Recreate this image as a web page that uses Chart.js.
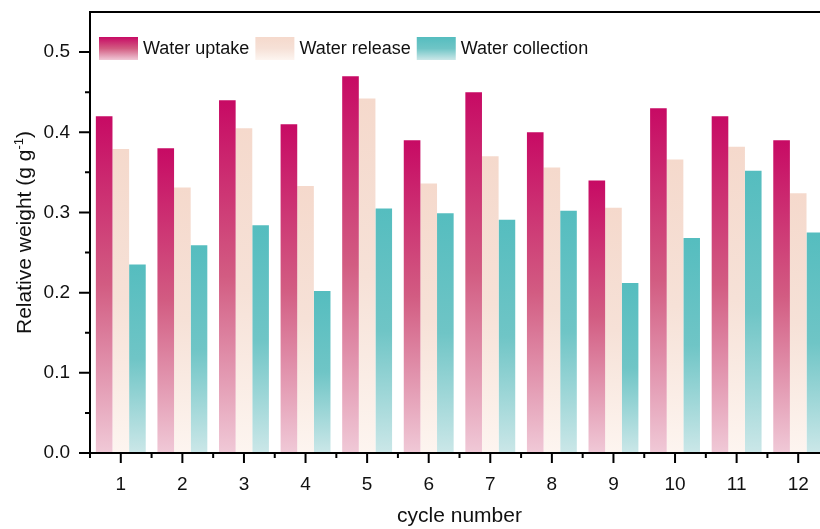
<!DOCTYPE html>
<html>
<head>
<meta charset="utf-8">
<script src="https://cdn.jsdelivr.net/npm/chart.js@4"></script>
<style>
  html, body { margin: 0; padding: 0; background: #fff; overflow: hidden; }
  #wrap { width: 840px; height: 529px; position: relative; }
</style>
</head>
<body>
<div id="wrap"><canvas id="cycleChart"></canvas></div>
<script>
// Số chu kỳ (trục x) và vạch chia trục y
const cycles = ["1", "2", "3", "4", "5", "6", "7", "8", "9", "10", "11", "12"];
const yTicks = [0, 0.1, 0.2, 0.3, 0.4, 0.5];

// Khối lượng tương đối (g g-1) theo từng chu kỳ
const waterUptake = [0.42, 0.38, 0.44, 0.41, 0.47, 0.39, 0.45, 0.40, 0.34, 0.43, 0.42, 0.39];
const waterRelease = [0.379, 0.331, 0.405, 0.333, 0.442, 0.336, 0.370, 0.356, 0.306, 0.366, 0.382, 0.324];
const waterCollection = [0.235, 0.259, 0.284, 0.202, 0.305, 0.299, 0.291, 0.302, 0.212, 0.268, 0.352, 0.275];

const FONT = '"Liberation Sans", Arial, sans-serif';

// Dải màu chuyển (trên -> dưới) cho từng nhóm cột
const uptakeStops = [[0, "#c70a64"], [0.5, "#d25c82"], [1, "#f0c9d7"]];
const releaseStops = [[0, "#f5d9cc"], [0.5, "#f6e1d7"], [1, "#fdf5f0"]];
const collectionStops = [[0, "#55bdbf"], [0.5, "#6fc5c6"], [1, "#cbe7e8"]];

function makeGradient(c, top, bottom, stops) {
  const g = c.createLinearGradient(0, top, 0, bottom);
  stops.forEach(s => g.addColorStop(s[0], s[1]));
  return g;
}

// Mỗi cột có gradient riêng, từ đỉnh cột xuống trục 0
function barFill(stops) {
  return function (context) {
    const chart = context.chart;
    const y = chart.scales.y;
    if (!chart.chartArea || !y || context.type !== "data") return stops[0][1];
    const top = y.getPixelForValue(context.raw);
    const bottom = y.getPixelForValue(0);
    return makeGradient(chart.ctx, top, bottom, stops);
  };
}

// Khung trục, vạch chia chính/phụ, chú thích và tiêu đề trục y
const framePlugin = {
  id: "frame",
  afterDatasetsDraw(chart) {
    const c = chart.ctx;
    const a = chart.chartArea;
    const x = chart.scales.x;
    const y = chart.scales.y;
    c.save();
    c.strokeStyle = "#000";
    c.lineWidth = 2;
    c.beginPath();
    c.moveTo(a.right, a.top);
    c.lineTo(a.left, a.top);
    c.lineTo(a.left, a.bottom);
    c.lineTo(a.right, a.bottom);
    c.stroke();

    // vạch trục y
    c.beginPath();
    yTicks.forEach(v => {
      const py = y.getPixelForValue(v);
      c.moveTo(a.left, py);
      c.lineTo(a.left - 11, py);
      const pm = y.getPixelForValue(v + 0.05);
      if (pm > a.top + 2) {
        c.moveTo(a.left, pm);
        c.lineTo(a.left - 5, pm);
      }
    });
    // vạch trục x
    cycles.forEach((lab, i) => {
      const px = x.getPixelForValue(i);
      c.moveTo(px, a.bottom);
      c.lineTo(px, a.bottom + 10);
      const pb = x.getPixelForValue(i - 0.5);
      c.moveTo(pb, a.bottom);
      c.lineTo(pb, a.bottom + 5);
    });
    c.stroke();

    // chú thích bên trong vùng vẽ
    c.font = "18px " + FONT;
    c.textBaseline = "middle";
    let lx = a.left + 9;
    const ly = a.top + 25;
    chart.data.datasets.forEach(ds => {
      c.fillStyle = makeGradient(c, ly, ly + 23, ds.stops);
      c.fillRect(lx, ly, 39, 23);
      c.fillStyle = "#111";
      c.fillText(ds.label, lx + 44, ly + 12);
      lx += 44 + c.measureText(ds.label).width + 6;
    });

    // tiêu đề trục y có chỉ số trên
    const main = "Relative weight (g g";
    const sup = "-1";
    const tail = ")";
    c.font = "21px " + FONT;
    const w1 = c.measureText(main).width;
    const w3 = c.measureText(tail).width;
    c.font = "13px " + FONT;
    const w2 = c.measureText(sup).width;
    const total = w1 + w2 + w3;
    c.translate(31, (a.top + a.bottom) / 2);
    c.rotate(-Math.PI / 2);
    c.textBaseline = "alphabetic";
    c.textAlign = "left";
    c.fillStyle = "#111";
    let tx = -total / 2;
    c.font = "21px " + FONT;
    c.fillText(main, tx, 0);
    tx += w1;
    c.font = "13px " + FONT;
    c.fillText(sup, tx, -8);
    tx += w2;
    c.font = "21px " + FONT;
    c.fillText(tail, tx, 0);
    c.restore();
  }
};

const ctx = document.getElementById("cycleChart").getContext("2d");

const myChart = new Chart(ctx, {
  type: "bar",
  data: {
    labels: cycles,
    datasets: [
      { label: "Water uptake", data: waterUptake, stops: uptakeStops, backgroundColor: barFill(uptakeStops) },
      { label: "Water release", data: waterRelease, stops: releaseStops, backgroundColor: barFill(releaseStops) },
      { label: "Water collection", data: waterCollection, stops: collectionStops, backgroundColor: barFill(collectionStops) },
    ],
  },
  options: {
    responsive: true,
    maintainAspectRatio: false,
    animation: false,
    layout: { padding: { top: 12, right: 11, left: 0, bottom: 0 } },
    datasets: {
      bar: { categoryPercentage: 0.81, barPercentage: 1, borderWidth: 0 },
    },
    plugins: {
      legend: { display: false },
      tooltip: { enabled: false },
    },
    scales: {
      x: {
        grid: { display: false, drawTicks: false },
        border: { display: false },
        ticks: { color: "#111", font: { family: FONT, size: 19 }, padding: 20, maxRotation: 0 },
        title: {
          display: true,
          text: "cycle number",
          color: "#111",
          font: { family: FONT, size: 21 },
          padding: { top: 0, bottom: 0 },
        },
        afterFit(scale) {
          scale.height = 76;
          scale.paddingLeft = 0;
          scale.paddingRight = 0;
        },
      },
      y: {
        min: 0,
        max: 0.55,
        grid: { display: false, drawTicks: false },
        border: { display: false },
        ticks: {
          color: "#111",
          font: { family: FONT, size: 19 },
          padding: 20,
          callback: v => v.toFixed(1),
        },
        afterBuildTicks(scale) { scale.ticks = yTicks.map(v => ({ value: v })); },
        afterFit(scale) {
          scale.width = 90;
          scale.paddingTop = 0;
          scale.paddingBottom = 0;
        },
      },
    },
  },
  plugins: [framePlugin],
});
</script>
</body>
</html>
